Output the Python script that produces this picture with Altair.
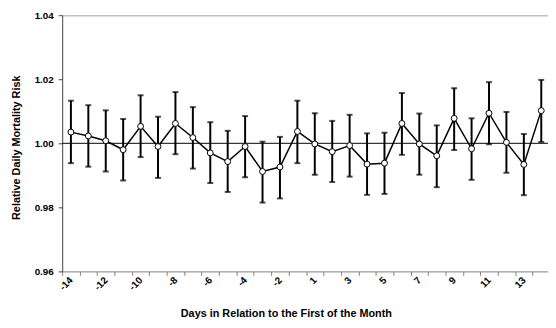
import altair as alt
import pandas as pd

days = ["-14", "-13", "-12", "-11", "-10", "-9", "-8", "-7", "-6", "-5", "-4", "-3", "-2", "-1",
        "1", "2", "3", "4", "5", "6", "7", "8", "9", "10", "11", "12", "13", "14"]
risk = [1.0035, 1.0023, 1.0008, 0.9980, 1.0053, 0.9990, 1.0062, 1.0018, 0.9970, 0.9943, 0.9990, 0.9912, 0.9926, 1.0037,
        0.9998, 0.9974, 0.9993, 0.9935, 0.9938, 1.0062, 0.9998, 0.9961, 1.0078, 0.9983, 1.0094, 1.0003, 0.9934, 1.0102]
upper = [1.0133, 1.0119, 1.0103, 1.0076, 1.0150, 1.0083, 1.0160, 1.0113, 1.0066, 1.0039, 1.0085, 1.0005, 1.0020, 1.0133,
         1.0094, 1.0070, 1.0089, 1.0031, 1.0033, 1.0157, 1.0093, 1.0056, 1.0172, 1.0078, 1.0191, 1.0098, 1.0029, 1.0198]
lower = [0.9938, 0.9927, 0.9912, 0.9884, 0.9957, 0.9892, 0.9966, 0.9921, 0.9876, 0.9848, 0.9894, 0.9815, 0.9828, 0.9938,
         0.9902, 0.9879, 0.9896, 0.9839, 0.9842, 0.9964, 0.9902, 0.9863, 0.9979, 0.9886, 0.9997, 0.9908, 0.9838, 1.0004]
y_ticks = [0.96, 0.98, 1.00, 1.02, 1.04]
reference = [1.00]
shown_labels = days[::2]

df = pd.DataFrame({"day": days, "risk": risk, "lo": lower, "hi": upper})
ref_df = pd.DataFrame({"ref": reference})

FONT = "Liberation Sans"
label_list = "[" + ",".join("'" + s + "'" for s in shown_labels) + "]"

x_enc = alt.X(
    "day:O",
    sort=days,
    scale=alt.Scale(domain=days, range=[0, 495], paddingInner=0, paddingOuter=0),
    axis=alt.Axis(
        title="Days in Relation to the First of the Month",
        titleFont=FONT, titleFontSize=11, titleFontWeight="bold", titleColor="black",
        titleX=227, titleY=46, titleAnchor="middle", titleAlign="center", titleBaseline="alphabetic",
        labelFont=FONT, labelFontSize=10, labelFontWeight="bold", labelColor="black",
        labelAngle=-45, labelAlign="right", labelBaseline="middle", labelPadding=3,
        labelOverlap=False,
        labelExpr=f"indexof({label_list}, datum.value) >= 0 ? datum.label : ''",
        tickBand="extent", tickSize=4, tickColor="#808080", tickWidth=1,
        domainColor="#808080", domainWidth=1, grid=False,
    ),
)

y_scale = alt.Scale(domain=[0.96, 1.04], nice=False, zero=False)
y_axis = alt.Axis(
    title="Relative Daily Mortality Risk",
    titleFont=FONT, titleFontSize=11, titleFontWeight="bold", titleColor="black",
    titleX=-46, titleY=134, titleAngle=-90, titleAlign="center", titleBaseline="middle",
    values=y_ticks, format=".2f",
    labelFont=FONT, labelFontSize=10, labelFontWeight="bold", labelColor="black", labelPadding=5,
    tickSize=4, tickColor="#404040", domainColor="#404040", domainWidth=1,
    grid=True,
    gridColor=alt.condition("datum.value >= 1.039", alt.value("#c0c0c0"), alt.value("transparent")),
    gridWidth=1.5,
)

base = alt.Chart(df)

bars = base.mark_rule(color="black", strokeWidth=2).encode(
    x=x_enc,
    y=alt.Y("lo:Q", scale=y_scale, axis=y_axis),
    y2="hi:Q",
)
caps_hi = base.mark_tick(color="black", thickness=2, size=6).encode(x="day:O", y="hi:Q")
caps_lo = base.mark_tick(color="black", thickness=2, size=6).encode(x="day:O", y="lo:Q")

ref_line = alt.Chart(ref_df).mark_rule(color="black", strokeWidth=1).encode(y="ref:Q")

line = base.mark_line(color="black", strokeWidth=1.5).encode(x="day:O", y="risk:Q")
pts = base.mark_point(filled=True, fill="white", stroke="black", strokeWidth=1, size=36, opacity=1).encode(
    x="day:O", y="risk:Q"
)

chart = alt.layer(bars, caps_hi, caps_lo, ref_line, line, pts).properties(
    width=493,
    height=260,
    autosize=alt.AutoSizeParams(type="none"),
    padding={"left": 55, "top": 5, "right": 0, "bottom": 47},
    background="white",
).configure_view(stroke=None)

chart.save("out.html", embed_options={"renderer": "svg", "actions": False})
